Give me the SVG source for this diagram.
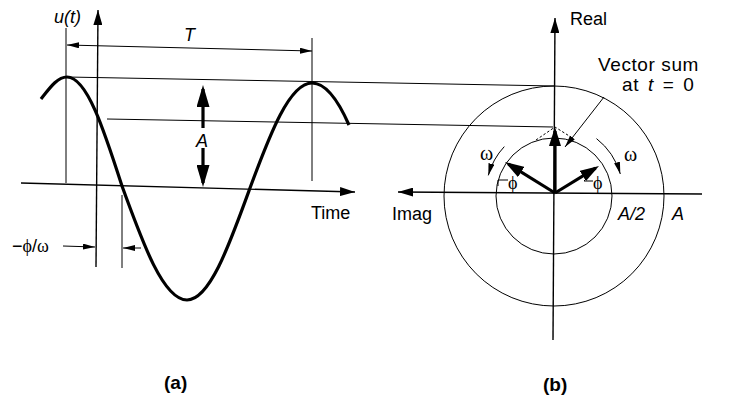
<svg xmlns="http://www.w3.org/2000/svg" width="729" height="398" viewBox="0 0 729 398">
<defs>
<style>
.thin{fill:none;stroke:#000;stroke-width:1}
.axis{fill:none;stroke:#000;stroke-width:1.4}
.thick{fill:none;stroke:#000;stroke-width:3.2}
.wave{fill:none;stroke:#000;stroke-width:3.2;stroke-linecap:butt}
.dash{fill:none;stroke:#000;stroke-width:1;stroke-dasharray:2.5 2}
text{font-family:"Liberation Sans",Arial,sans-serif;font-size:18px;fill:#000}
.it{font-style:italic}
.gr{font-family:"Liberation Serif","Times New Roman",serif}
.gb{font-size:20px}
.cap{font-weight:bold;font-size:19px}
.big{font-size:19px;letter-spacing:0.6px}
</style>
<marker id="mS" viewBox="0 0 12 6" refX="12" refY="3" markerWidth="12" markerHeight="6" orient="auto-start-reverse" markerUnits="userSpaceOnUse"><path d="M0,0L12,3L0,6z"/></marker>
<marker id="mAx" viewBox="0 0 15 9" refX="15" refY="4.5" markerWidth="15" markerHeight="9" orient="auto" markerUnits="userSpaceOnUse"><path d="M0,0L15,4.5L0,9z"/></marker>
<marker id="mV" viewBox="0 0 19 12" refX="15" refY="6" markerWidth="19" markerHeight="12" orient="auto" markerUnits="userSpaceOnUse"><path d="M0,0L19,6L0,12z"/></marker>
<marker id="mA" viewBox="0 0 22 13" refX="18" refY="6.5" markerWidth="22" markerHeight="13" orient="auto" markerUnits="userSpaceOnUse"><path d="M0,0L22,6.5L0,13z"/></marker>
</defs>

<g id="panel-a">
  <g id="time-axis"><path class="axis" d="M21,183 L355,192" marker-end="url(#mAx)"/></g>
  <g id="u-axis"><path class="axis" d="M96,267 L98,10" marker-end="url(#mAx)"/></g>
  <g id="wave"><path class="wave" d="M41,99 C49,89 57,77 67,77 C86.9,77 104.1,130.2 122,186 C143.2,244.4 163.5,300 187,300 C209.8,300 229.5,244.4 250,188 C270.2,133.2 289.6,83 312,83 C326,83 338,100 349,125"/></g>
  <g id="guides">
    <path class="thin" d="M66,28 L66,183"/>
    <path class="thin" d="M312,38 L312,181"/>
    <path class="thin" d="M122,195 L122,268"/>
  </g>
  <g id="period-T">
    <path class="thin" d="M67,45 L312,51" marker-start="url(#mS)" marker-end="url(#mS)"/>
    <text class="it" x="184" y="41">T</text>
  </g>
  <g id="amplitude-A">
    <path class="thick" d="M203,128 L203,89" marker-end="url(#mA)"/>
    <path class="thick" d="M203,148 L203,183" marker-end="url(#mA)"/>
    <text class="it" x="196" y="147">A</text>
  </g>
  <g id="phase-offset">
    <path class="thin" d="M63,246 L95,247" marker-end="url(#mS)"/>
    <path class="thin" d="M141,248 L123,248" marker-end="url(#mS)"/>
    <text x="12" y="252">−<tspan class="gr">ϕ</tspan>/<tspan class="gr">ω</tspan></text>
  </g>
  <g id="labels-a">
    <text class="it" x="54" y="23">u(t)</text>
    <text x="311" y="219">Time</text>
    <text class="cap" x="164" y="389">(a)</text>
  </g>
</g>

<g id="projections">
  <path class="thin" d="M67,77 L555,86"/>
  <path class="thin" d="M107,119 L553,127"/>
</g>

<g id="panel-b">
  <g id="circles">
    <circle class="thin" cx="554" cy="196" r="110"/>
    <circle class="thin" cx="554" cy="196" r="58"/>
  </g>
  <g id="real-axis"><path class="axis" d="M553,340 L555,18" marker-end="url(#mAx)"/><text x="570" y="25">Real</text></g>
  <g id="imag-axis"><path class="axis" d="M702,194 L398,192" marker-end="url(#mAx)"/><text x="392" y="220">Imag</text></g>
  <g id="vectors">
    <path class="thick" d="M555,193 L555,131" marker-end="url(#mV)"/>
    <path class="thick" d="M555,193 L508.4,164.1" marker-end="url(#mV)"/>
    <path class="thick" d="M555,193 L595.6,168.1" marker-end="url(#mV)"/>
    <path class="dash" d="M536,140 L555,127 L574,139"/>
  </g>
  <g id="rotation">
    <path class="thin" d="M504.3,146.6 A68,68 0 0 0 488.3,175.4" marker-end="url(#mS)"/>
    <path class="thin" d="M596.5,138.6 A69,69 0 0 1 620.3,174" marker-end="url(#mS)"/>
    <text class="gr gb" x="480" y="160">ω</text>
    <text class="gr gb" x="624" y="161">ω</text>
  </g>
  <g id="angles">
    <path class="thin" d="M498,186 L498,180 L508,180"/>
    <text class="gr" x="508" y="189">ϕ</text>
    <path class="thin" d="M591,174 L584,181 L593,181"/>
    <text class="gr" x="593" y="189">ϕ</text>
  </g>
  <g id="vector-sum-label">
    <path class="thin" d="M604,97 L565,147" marker-end="url(#mS)"/>
    <text class="big" x="598" y="71">Vector sum</text>
    <text class="big" x="622" y="91" word-spacing="3">at <tspan class="it">t</tspan> = 0</text>
  </g>
  <g id="radius-labels">
    <text class="it" x="618" y="220">A/2</text>
    <text class="it" x="672" y="220">A</text>
  </g>
  <text class="cap" x="543" y="391">(b)</text>
</g>
</svg>
